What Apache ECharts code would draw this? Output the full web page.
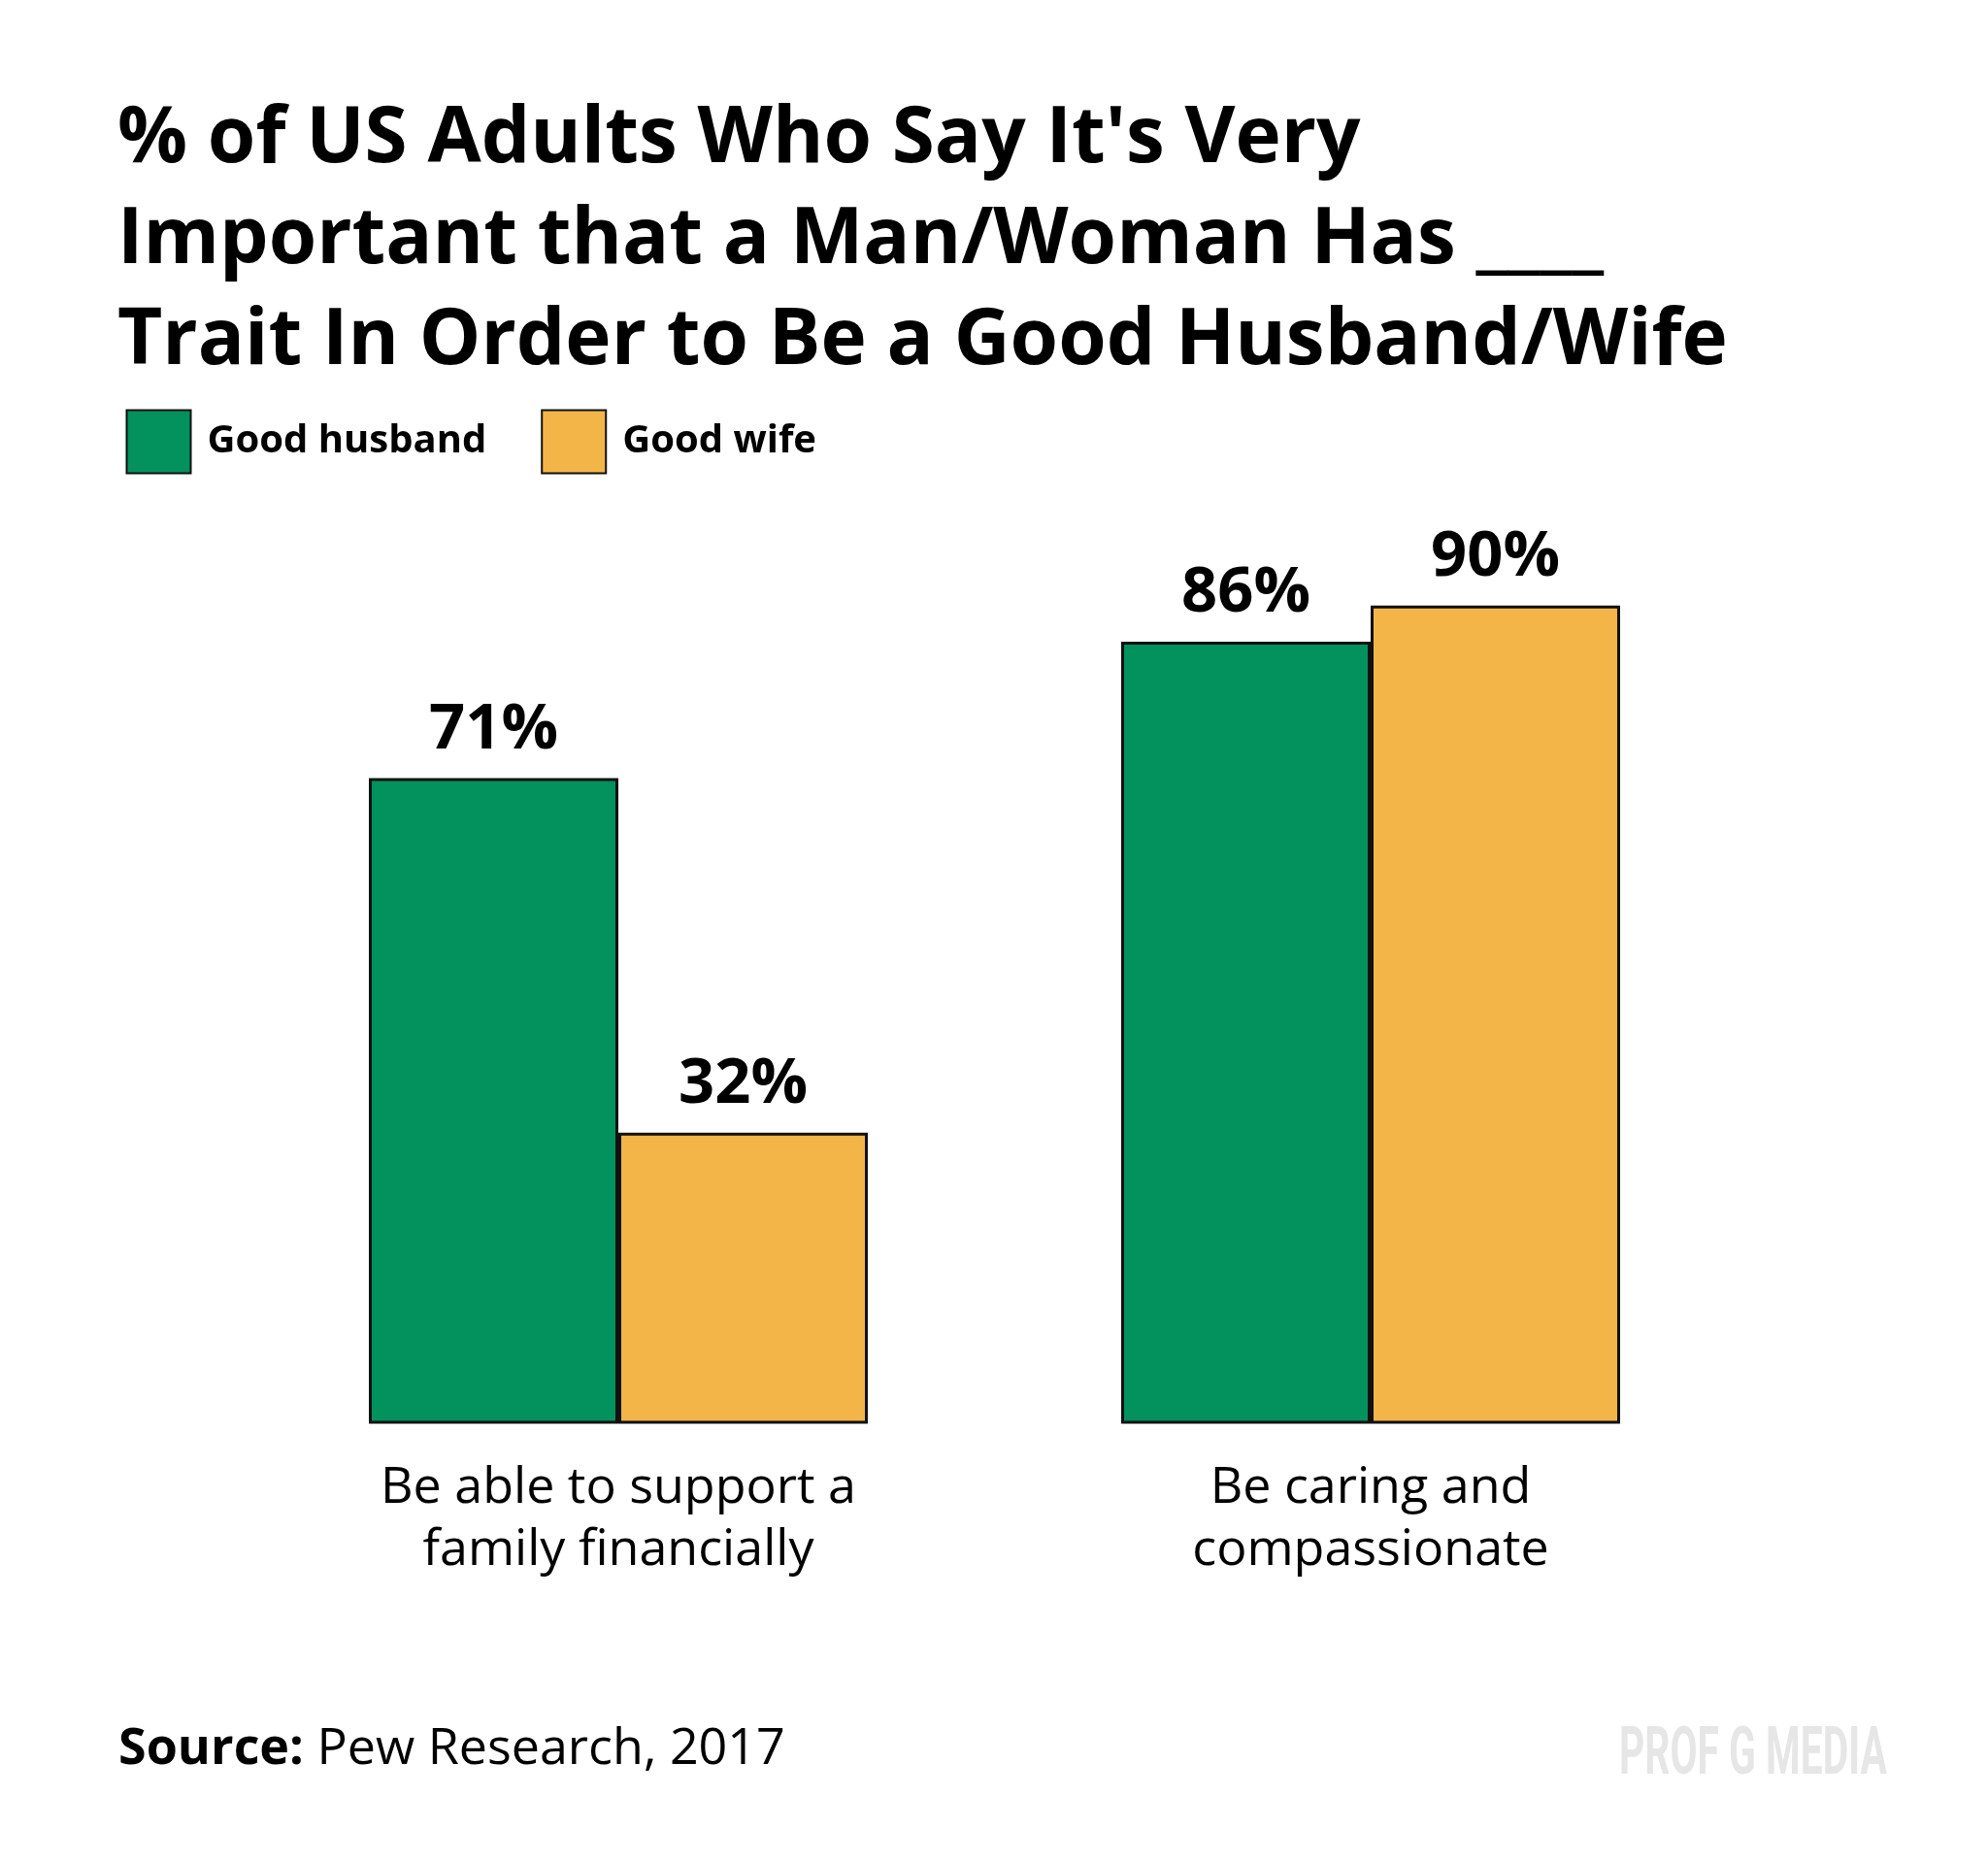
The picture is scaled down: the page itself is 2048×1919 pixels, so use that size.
<!DOCTYPE html>
<html>
<head>
<meta charset="utf-8">
<script src="https://cdn.jsdelivr.net/npm/echarts@6/dist/echarts.min.js"></script>
<style>
  html, body { margin: 0; padding: 0; background: #fff; }
  #main { width: 2048px; height: 1919px; }
</style>
</head>
<body>
<div id="main"></div>
<script>
// data
var categories = ['Be able to support a\nfamily financially', 'Be caring and\ncompassionate'];
var seriesNames = ['Good husband', 'Good wife'];
var husbandValues = [71, 86];
var wifeValues = [32, 90];

var chart = echarts.init(document.getElementById('main'));

var font = '"Open Sans", "Noto Sans", sans-serif';

var barStyle = function (color) {
    return { color: color, borderColor: '#111', borderWidth: 3 };
};

var barLabel = {
    show: true,
    position: 'top',
    distance: 17,
    formatter: '{c}%',
    fontFamily: font,
    fontWeight: 'bold',
    fontSize: 65,
    color: '#000'
};

chart.setOption({
    backgroundColor: '#fff',
    animation: false,
    title: {
        text: "% of US Adults Who Say It's Very\nImportant that a Man/Woman Has ____\nTrait In Order to Be a Good Husband/Wife",
        left: 121,
        top: 92,
        padding: 0,
        textStyle: {
            fontFamily: font,
            fontWeight: 'bold',
            fontSize: 80,
            lineHeight: 104,
            color: '#000'
        }
    },
    legend: {
        data: seriesNames,
        left: 129.5,
        top: 421.5,
        padding: 0,
        itemWidth: 66,
        itemHeight: 65,
        itemGap: 56,
        icon: 'rect',
        textStyle: {
            fontFamily: font,
            fontWeight: 'bold',
            fontSize: 40,
            color: '#000',
            padding: [0, 0, 0, 12]
        }
    },
    grid: {
        left: 249.5,
        right: 248.5,
        top: 530,
        bottom: 452.5
    },
    xAxis: {
        type: 'category',
        data: categories,
        axisLine: { show: false },
        axisTick: { show: false },
        axisLabel: {
            margin: 35,
            fontFamily: font,
            fontSize: 52,
            lineHeight: 64,
            color: '#000'
        }
    },
    yAxis: {
        type: 'value',
        min: 0,
        max: 100,
        show: false,
        splitLine: { show: false }
    },
    series: [
        {
            name: seriesNames[0],
            type: 'bar',
            data: husbandValues,
            barWidth: 257,
            barGap: '0%',
            itemStyle: barStyle('#03915D'),
            label: barLabel
        },
        {
            name: seriesNames[1],
            type: 'bar',
            data: wifeValues,
            barWidth: 257,
            barGap: '0%',
            itemStyle: barStyle('#F3B548'),
            label: barLabel
        }
    ],
    graphic: [
        {
            type: 'text',
            left: 122,
            top: 1776,
            style: {
                text: '{b|Source:} Pew Research, 2017',
                rich: {
                    b: { fontFamily: font, fontWeight: 'bold', fontSize: 52, fill: '#000' }
                },
                fontFamily: font,
                fontSize: 52,
                fill: '#000'
            }
        },
        {
            type: 'text',
            x: 1668,
            y: 1776,
            scaleX: 0.6,
            style: {
                x: 0,
                y: 0,
                text: 'PROF G MEDIA',
                verticalAlign: 'top',
                fontFamily: 'Roboto, sans-serif',
                fontWeight: 'bold',
                fontSize: 68,
                lineHeight: 68,
                fill: '#e6e6e6'
            }
        }
    ]
});
</script>
</body>
</html>
